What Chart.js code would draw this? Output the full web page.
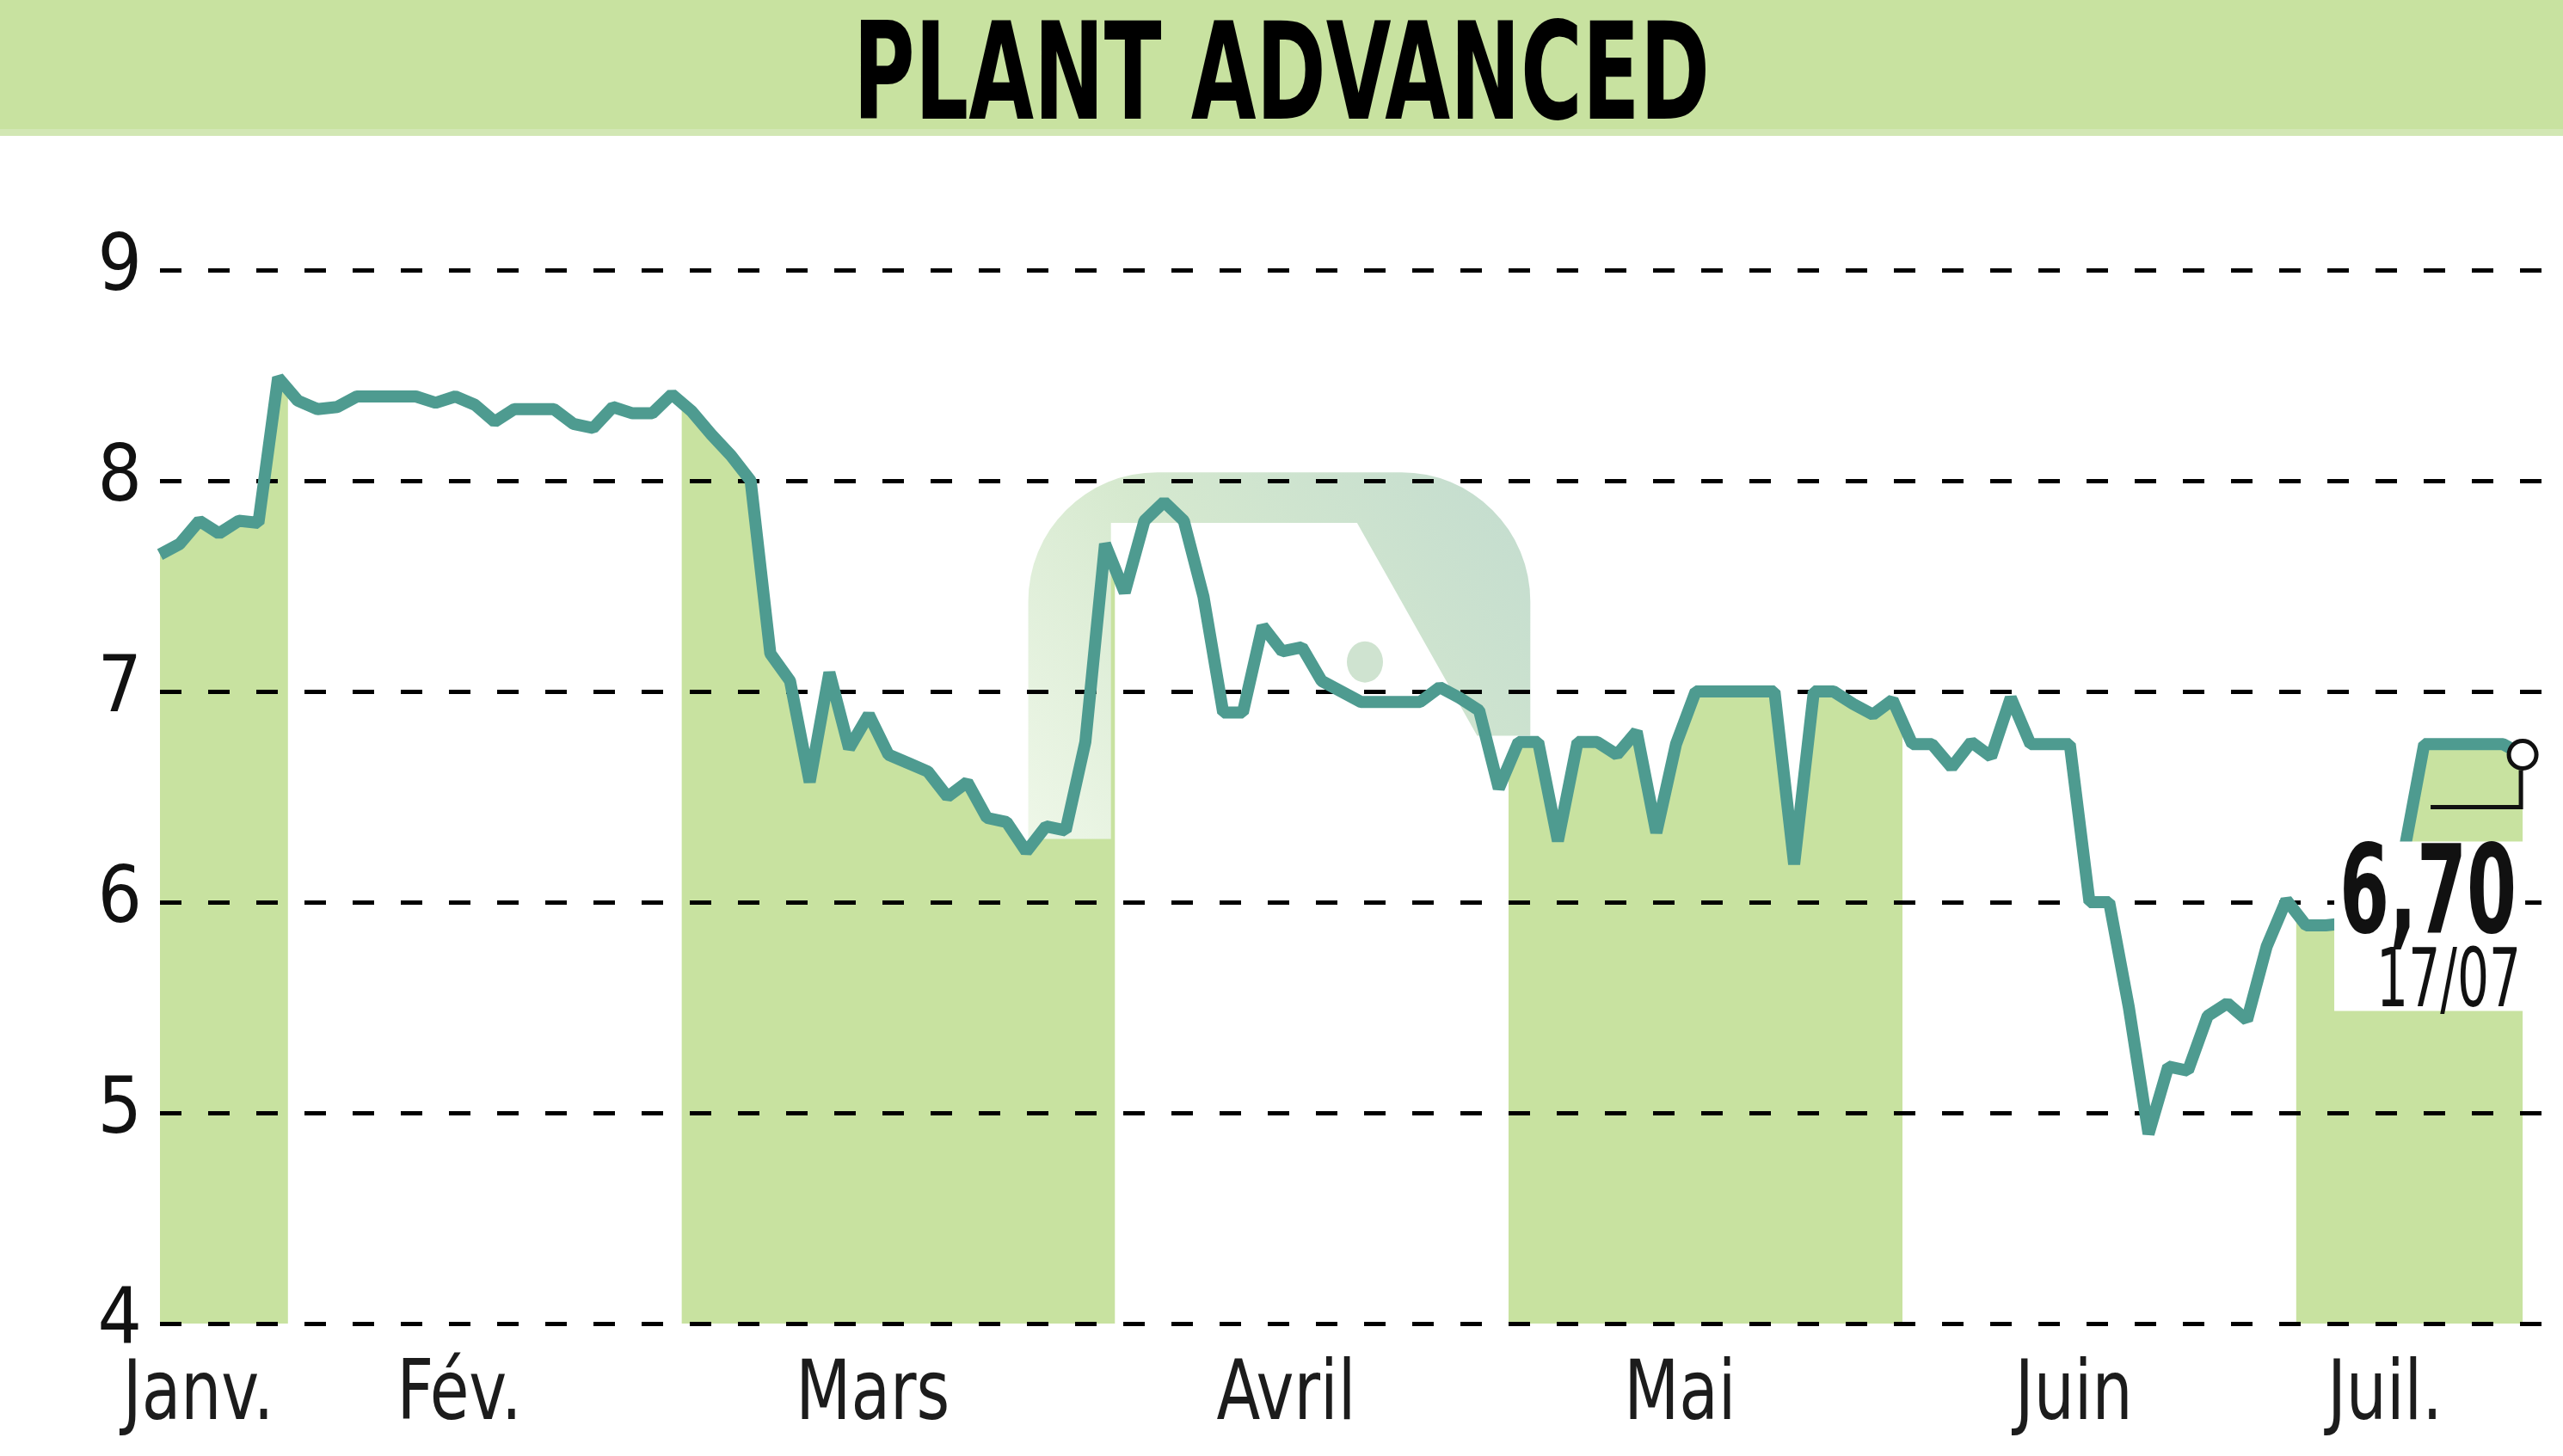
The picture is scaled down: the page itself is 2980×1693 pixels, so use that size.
<!DOCTYPE html>
<html lang="fr">
<head>
<meta charset="utf-8">
<title>PLANT ADVANCED</title>
<script src="https://cdn.jsdelivr.net/npm/chart.js@4.4.1/dist/chart.umd.min.js"></script>
<style>
  html, body { margin: 0; padding: 0; background: #fff; overflow: hidden; }
  canvas { display: block; }
</style>
</head>
<body>
<canvas id="chart" width="2980" height="1693"></canvas>
<script>
const title = 'PLANT ADVANCED';
const lastDate = '17/07';
const months = ['Janv.', 'Fév.', 'Mars', 'Avril', 'Mai', 'Juin', 'Juil.'];
const daysPerMonth = [7, 20, 22, 20, 20, 20, 12];
const yTicks = [4, 5, 6, 7, 8, 9];

// closing prices, one per trading day
const prices = [
    7.65, 7.70, 7.81, 7.75, 7.81, 7.80, 8.49,
    8.38, 8.34, 8.35, 8.40, 8.40, 8.40, 8.40, 8.37, 8.40, 8.36,
    8.28, 8.34, 8.34, 8.34, 8.27, 8.25, 8.35, 8.32, 8.32, 8.41,
    8.33, 8.22, 8.12, 8.00, 7.18, 7.05, 6.57, 7.09, 6.73, 6.89, 6.70,
    6.66, 6.62, 6.50, 6.57, 6.40, 6.38, 6.24, 6.36, 6.34, 6.76, 7.70,
    7.47, 7.81, 7.90, 7.81, 7.45, 6.90, 6.90, 7.31, 7.19, 7.21,
    7.05, 7.00, 6.95, 6.95, 6.95, 6.95, 7.02, 6.97, 6.91, 6.54,
    6.76, 6.76, 6.29, 6.76, 6.76, 6.70, 6.81, 6.33, 6.75, 7.00,
    7.00, 7.00, 7.00, 7.00, 6.18, 7.00, 7.00, 6.94, 6.89, 6.96,
    6.75, 6.75, 6.64, 6.76, 6.69, 6.97, 6.75, 6.75, 6.75, 6.00,
    6.00, 5.50, 4.90, 5.22, 5.20, 5.46, 5.52, 5.44, 5.79, 6.01,
    5.89, 5.89, 5.90, 5.95, 6.05, 6.25, 6.75, 6.75, 6.75, 6.75, 6.75, 6.70
];

const GREEN = '#c8e2a0';
const TEAL = '#4e9b90';
const narrow = "'Liberation Sans Narrow', 'DejaVu Sans Condensed', 'Liberation Sans', sans-serif";

const lastIdx = prices.length - 1;
const monthStart = daysPerMonth.map((d, i) => daysPerMonth.slice(0, i).reduce((a, b) => a + b, 0));
// each month spans half a day either side of its first/last trading day, clipped to the data
const monthFrom = monthStart.map(s => Math.max(s - 0.5, 0));
const monthTo = monthStart.map((s, i) => Math.min(s + daysPerMonth[i] - 0.5, lastIdx + 0.1));
const tickPos = monthFrom.map((f, i) => (f + monthTo[i]) / 2 - 1.3);

// the original uses a condensed face, so text gets squeezed horizontally
function drawScaled(ctx, text, font, x, baseline, sx, align, color) {
    ctx.save();
    ctx.font = font;
    ctx.fillStyle = color;
    ctx.textAlign = align;
    ctx.textBaseline = 'alphabetic';
    ctx.translate(x, baseline);
    ctx.scale(sx, 1);
    ctx.fillText(text, 0, 0);
    ctx.restore();
}

function drawFitted(ctx, text, font, x, baseline, width, align, color) {
    ctx.save();
    ctx.font = font;
    const w = ctx.measureText(text).width;
    ctx.restore();
    drawScaled(ctx, text, font, x, baseline, width / w, align, color);
}

function drawLogo(chart) {
    const { ctx } = chart;
    const xs = chart.scales.x, ys = chart.scales.y;
    const L = xs.getPixelForValue(44.1), R = xs.getPixelForValue(69.6);
    const T = ys.getPixelForValue(8.04), IT = ys.getPixelForValue(7.80);
    const IL = xs.getPixelForValue(48.3);
    const D1 = xs.getPixelForValue(60.8), D2 = xs.getPixelForValue(66.9);
    const LB = ys.getPixelForValue(6.30), RB = ys.getPixelForValue(6.79);
    const r = 150;

    const grad = ctx.createLinearGradient(L, LB, R, T);
    grad.addColorStop(0, 'rgba(238,247,232,1)');
    grad.addColorStop(0.45, '#d6e9cf');
    grad.addColorStop(1, '#c3dccf');

    ctx.save();
    ctx.fillStyle = grad;
    ctx.beginPath();
    ctx.moveTo(L, LB);
    ctx.lineTo(L, T + r);
    ctx.arcTo(L, T, L + r, T, r);
    ctx.lineTo(R - r, T);
    ctx.arcTo(R, T, R, T + r, r);
    ctx.lineTo(R, RB);
    ctx.lineTo(D2, RB);
    ctx.lineTo(D1, IT);
    ctx.lineTo(IL, IT);
    ctx.lineTo(IL, LB);
    ctx.closePath();
    ctx.fill();

    ctx.fillStyle = '#cfe3d0';
    ctx.beginPath();
    ctx.ellipse(xs.getPixelForValue(61.2), ys.getPixelForValue(7.14), 21, 24, 0, 0, Math.PI * 2);
    ctx.fill();
    ctx.restore();
}

const backdrop = {
    id: 'backdrop',
    beforeDraw(chart) {
        const { ctx, chartArea } = chart;
        const xs = chart.scales.x;

        // title banner
        ctx.save();
        ctx.fillStyle = GREEN;
        ctx.fillRect(0, 0, chart.width, 150);
        ctx.fillStyle = '#d2e7b4';
        ctx.fillRect(0, 150, chart.width, 8);
        ctx.restore();
        drawFitted(ctx, title, `bold 156px ${narrow}`, chart.width / 2, 138, 996, 'center', '#000');

        // green fill under the line, every other month
        const pts = chart.getDatasetMeta(0).data;
        ctx.save();
        ctx.fillStyle = GREEN;
        months.forEach((m, k) => {
            if (k % 2) return;
            const xl = xs.getPixelForValue(monthFrom[k]);
            const xr = xs.getPixelForValue(monthTo[k]);
            ctx.save();
            ctx.beginPath();
            ctx.rect(xl, chartArea.top, xr - xl, chartArea.bottom - chartArea.top);
            ctx.clip();
            ctx.beginPath();
            ctx.moveTo(pts[0].x, chartArea.bottom);
            pts.forEach(p => ctx.lineTo(p.x, p.y));
            ctx.lineTo(pts[lastIdx].x, chartArea.bottom);
            ctx.closePath();
            ctx.fill();
            ctx.restore();
        });
        ctx.restore();

        drawLogo(chart);
    }
};

// month names: taken from the x scale ticks, drawn condensed
const monthLabels = {
    id: 'monthLabels',
    afterDraw(chart) {
        const xs = chart.scales.x;
        xs.ticks.forEach(t => {
            drawScaled(chart.ctx, t.label, `96px ${narrow}`, xs.getPixelForValue(t.value),
                1650, 0.86, 'center', '#1c1c1c');
        });
    }
};

const lastLabel = {
    id: 'lastLabel',
    afterDatasetsDraw(chart) {
        const { ctx } = chart;
        const p = chart.getDatasetMeta(0).data[lastIdx];
        const px = p.x, py = p.y;

        ctx.save();
        ctx.fillStyle = '#fff';
        ctx.fillRect(px - 219, py + 101, 222, 197);

        ctx.strokeStyle = '#111';
        ctx.lineWidth = 5;
        ctx.beginPath();
        ctx.moveTo(px - 2, py + 18);
        ctx.lineTo(px - 2, py + 61);
        ctx.lineTo(px - 107, py + 61);
        ctx.stroke();
        ctx.restore();

        const value = prices[lastIdx].toFixed(2).replace('.', ',');
        drawFitted(ctx, value, `bold 142px ${narrow}`, px - 7, py + 206, 206, 'right', '#111');
        drawFitted(ctx, lastDate, `94px ${narrow}`, px - 2, py + 292, 168, 'right', '#111');
    }
};

new Chart(document.getElementById('chart'), {
    type: 'line',
    data: {
        datasets: [{
            data: prices.map((v, i) => ({ x: i, y: v })),
            borderColor: TEAL,
            borderWidth: 14,
            borderJoinStyle: 'bevel',
            tension: 0,
            fill: false,
            clip: false,
            pointRadius: c => (c.dataIndex === lastIdx ? 16 : 0),
            pointHoverRadius: 0,
            pointBackgroundColor: '#fff',
            pointBorderColor: '#111',
            pointBorderWidth: 5
        }]
    },
    options: {
        responsive: false,
        animation: false,
        devicePixelRatio: 1,
        events: [],
        layout: { autoPadding: false, padding: { top: 314, right: 0, bottom: 0, left: 0 } },
        plugins: {
            legend: { display: false },
            tooltip: { enabled: false },
            title: { display: false }
        },
        scales: {
            x: {
                type: 'linear',
                bounds: 'data',
                min: 0,
                max: lastIdx + 2.05,
                grid: { display: false },
                border: { display: false },
                afterBuildTicks: s => { s.ticks = tickPos.map(v => ({ value: v })); },
                afterFit: s => { s.height = 154; },
                ticks: {
                    display: false,
                    autoSkip: false,
                    maxRotation: 0,
                    callback: (v, i) => months[i]
                }
            },
            y: {
                min: 4,
                max: 9,
                afterBuildTicks: s => { s.ticks = yTicks.map(v => ({ value: v })); },
                afterFit: s => { s.width = 186; },
                grid: { color: '#000', lineWidth: 5, drawTicks: false },
                border: { display: false, dash: [25, 31] },
                ticks: {
                    padding: 21,
                    color: '#111',
                    font: { family: narrow, size: 90 }
                }
            }
        }
    },
    plugins: [backdrop, lastLabel, monthLabels]
});
</script>
</body>
</html>
